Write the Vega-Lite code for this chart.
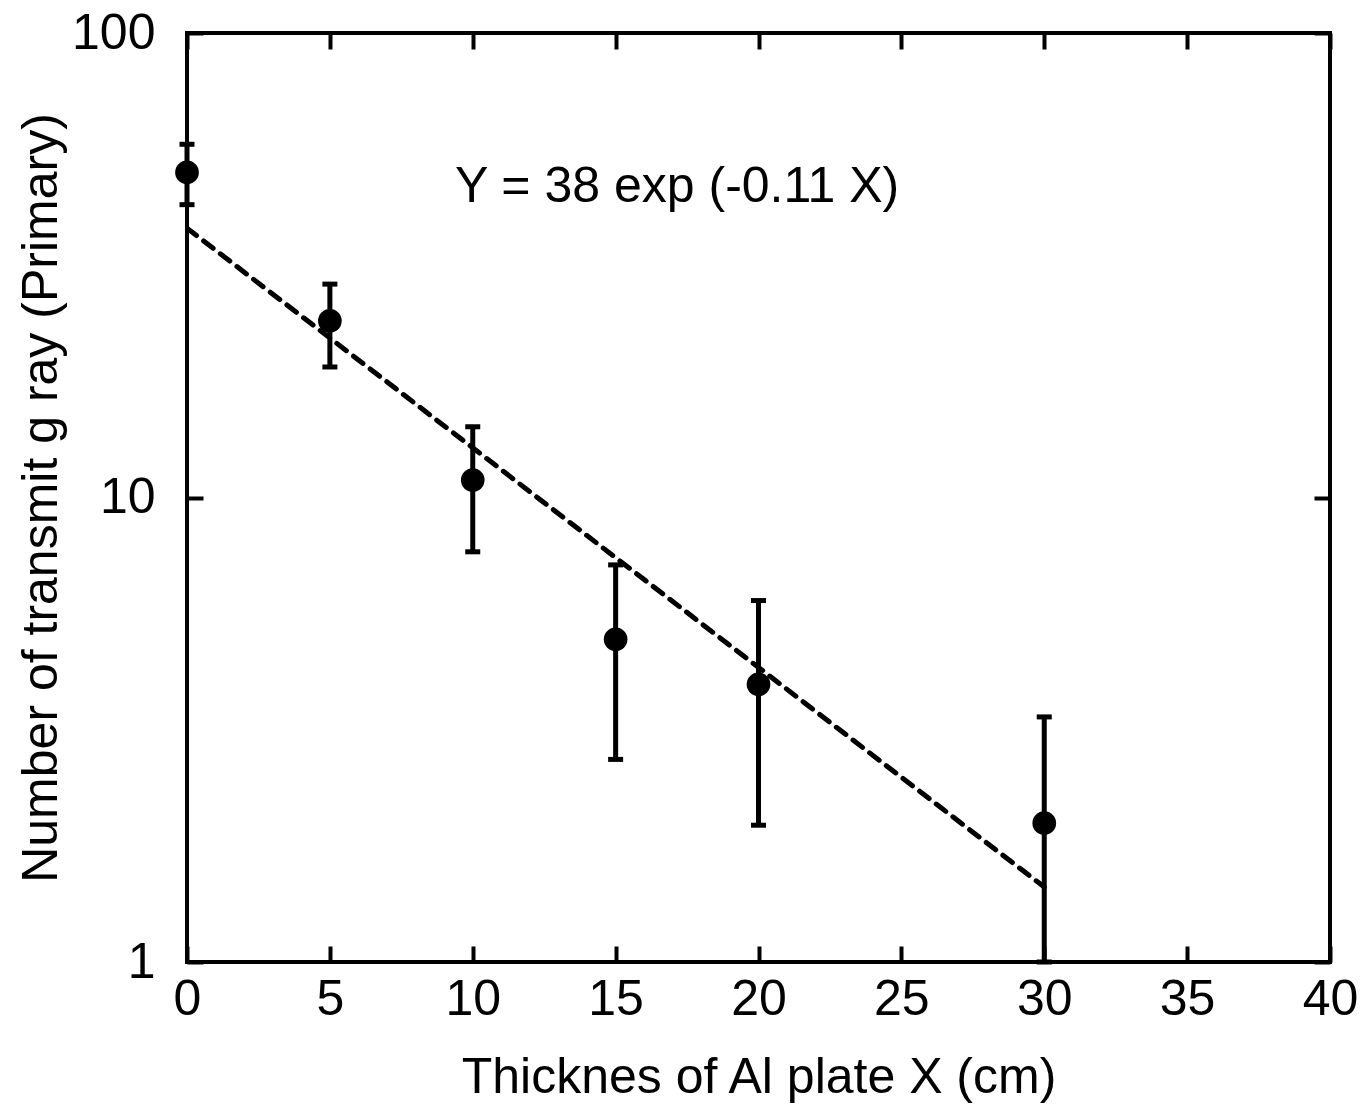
{
  "$schema": "https://vega.github.io/schema/vega-lite/v6.json",
  "autosize": {"type": "none"},
  "width": 1143,
  "height": 929,
  "padding": {"left": 187, "top": 33, "right": 34, "bottom": 144},
  "background": "white",
  "config": {
    "view": {"stroke": "black", "strokeWidth": 4},
    "font": "Liberation Sans",
    "axis": {
      "domain": false,
      "grid": false,
      "tickColor": "black",
      "tickWidth": 4,
      "tickSize": -16,
      "labelFlush": false,
      "labelOverlap": false,
      "labelFont": "Liberation Sans",
      "labelFontSize": 50,
      "labelColor": "black",
      "titleFont": "Liberation Sans",
      "titleFontSize": 50,
      "titleFontWeight": "normal",
      "titleColor": "black"
    }
  },
  "datasets": {
    "points": [
      {"x": 0, "y": 50.1, "lo": 42.7, "hi": 57.6},
      {"x": 5, "y": 24.0, "lo": 19.1, "hi": 28.8},
      {"x": 10, "y": 10.9, "lo": 7.64, "hi": 14.2},
      {"x": 15, "y": 4.95, "lo": 2.73, "hi": 7.16},
      {"x": 20, "y": 3.96, "lo": 1.97, "hi": 6.0},
      {"x": 30, "y": 1.99, "lo": 1.0, "hi": 3.37}
    ],
    "fit": [
      {"x": 0, "y": 38},
      {"x": 30, "y": 1.45}
    ],
    "note": [
      {"x": 9.38, "y": 46.6, "label": "Y = 38 exp (-0.11 X)"}
    ]
  },
  "layer": [
    {
      "data": {"name": "fit"},
      "mark": {"type": "line", "color": "black", "strokeWidth": 5, "strokeDash": [12, 9], "strokeCap": "round", "clip": true},
      "encoding": {
        "x": {"field": "x", "type": "quantitative", "scale": {"domain": [0, 40], "nice": false},
          "axis": {"orient": "bottom", "values": [0, 5, 10, 15, 20, 25, 30, 35, 40], "title": "Thicknes of Al plate X (cm)", "labelPadding": 28, "titlePadding": 28}},
        "y": {"field": "y", "type": "quantitative", "scale": {"type": "log", "domain": [1, 100], "nice": false},
          "axis": {"orient": "left", "values": [1, 10, 100], "format": "d", "title": "Number of transmit g ray (Primary)", "labelPadding": 48, "titlePadding": 5}}
      }
    },
    {
      "data": {"name": "points"},
      "mark": {"type": "rule", "color": "black", "strokeWidth": 5},
      "encoding": {
        "x": {"field": "x", "type": "quantitative", "axis": {"orient": "top", "values": [0, 5, 10, 15, 20, 25, 30, 35, 40], "labels": false, "title": null}},
        "y": {"field": "lo", "type": "quantitative", "axis": {"orient": "right", "values": [1, 10, 100], "labels": false, "title": null}},
        "y2": {"field": "hi"}
      }
    },
    {
      "data": {"name": "points"},
      "mark": {"type": "tick", "color": "black", "opacity": 1, "orient": "horizontal", "size": 15, "thickness": 5},
      "encoding": {
        "x": {"field": "x", "type": "quantitative", "axis": null},
        "y": {"field": "hi", "type": "quantitative", "axis": null}
      }
    },
    {
      "data": {"name": "points"},
      "mark": {"type": "tick", "color": "black", "opacity": 1, "orient": "horizontal", "size": 15, "thickness": 5},
      "encoding": {
        "x": {"field": "x", "type": "quantitative", "axis": null},
        "y": {"field": "lo", "type": "quantitative", "axis": null}
      }
    },
    {
      "data": {"name": "points"},
      "mark": {"type": "point", "shape": "circle", "filled": true, "color": "black", "opacity": 1, "size": 560},
      "encoding": {
        "x": {"field": "x", "type": "quantitative", "axis": null},
        "y": {"field": "y", "type": "quantitative", "axis": null}
      }
    },
    {
      "data": {"name": "note"},
      "mark": {"type": "text", "align": "left", "baseline": "middle", "fontSize": 50, "font": "Liberation Sans", "color": "black"},
      "encoding": {
        "x": {"field": "x", "type": "quantitative", "axis": null},
        "y": {"field": "y", "type": "quantitative", "axis": null},
        "text": {"field": "label"}
      }
    }
  ],
  "resolve": {"axis": {"x": "independent", "y": "independent"}}
}
